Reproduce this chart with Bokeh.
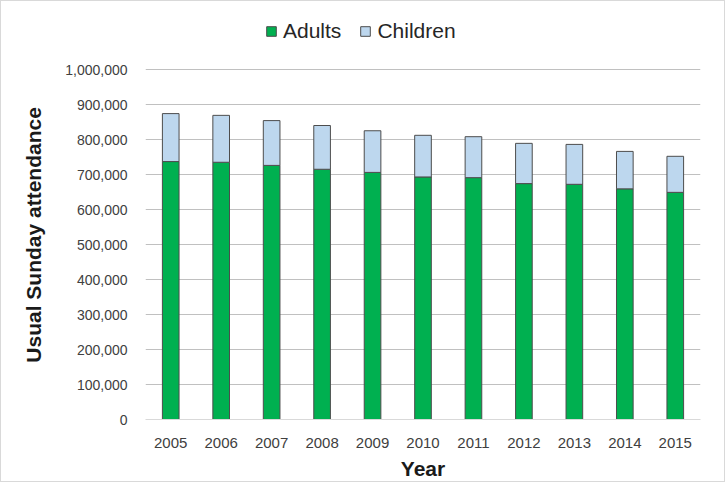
from bokeh.plotting import figure
from bokeh.models import ColumnDataSource, Legend, NumeralTickFormatter, FixedTicker
from bokeh.embed import file_html
from bokeh.resources import INLINE

years = ["2005", "2006", "2007", "2008", "2009", "2010", "2011", "2012", "2013", "2014", "2015"]
adults = [737000, 735000, 726000, 715000, 706000, 693000, 691000, 674000, 672000, 659000, 649000]
children = [137000, 134000, 128000, 125000, 119000, 119000, 117000, 115000, 114000, 107000, 103000]
y_ticks = [0, 100000, 200000, 300000, 400000, 500000, 600000, 700000, 800000, 900000, 1000000]

source = ColumnDataSource(dict(year=years, Adults=adults, Children=children))

# frame extends above the 1,000,000 line to hold the legend
p = figure(x_range=years, y_range=(0, 1171430), width=725, height=482,
           output_backend="svg", toolbar_location=None,
           min_border_left=144, min_border_right=26, min_border_top=8, min_border_bottom=64)

renderers = p.vbar_stack(["Adults", "Children"], x="year", width=0.33, source=source,
                         color=["#00b050", "#bdd7ee"], line_color="#4d4d4d", line_width=1)

legend = Legend(items=[("Adults", [renderers[0]]), ("Children", [renderers[1]])],
                orientation="horizontal", location=(120, 376))
legend.label_text_font = "Liberation Sans"
legend.label_text_font_size = "21px"
legend.label_text_color = "#262626"
legend.glyph_width = 12
legend.glyph_height = 12
legend.spacing = 18
legend.label_standoff = 6
legend.border_line_color = None
legend.background_fill_alpha = 0
legend.padding = 0
legend.margin = 0
p.add_layout(legend, "center")

p.yaxis.ticker = FixedTicker(ticks=y_ticks)
p.yaxis.formatter = NumeralTickFormatter(format="0,0")
p.ygrid.ticker = FixedTicker(ticks=y_ticks)
p.ygrid.grid_line_color = "#c0c0c0"
p.ygrid.grid_line_width = 1
p.xgrid.grid_line_color = None

for ax in (p.xaxis[0], p.yaxis[0]):
    ax.major_tick_line_color = None
    ax.minor_tick_line_color = None
    ax.major_label_text_font = "Liberation Sans"
    ax.major_label_text_color = "#404040"
    ax.axis_label_text_font = "Liberation Sans"
    ax.axis_label_text_font_size = "21px"
    ax.axis_label_text_font_style = "bold"
    ax.axis_label_text_color = "#1a1a1a"

p.xaxis.major_label_text_font_size = "15px"
p.yaxis.major_label_text_font_size = "14px"
p.yaxis.axis_line_color = None
p.xaxis.axis_line_color = "#d9d9d9"
p.xaxis.axis_label = "Year"
# trailing no-break spaces move the visible label down to the centre of the 0–1,000,000 span
p.yaxis.axis_label = "Usual Sunday attendance" + "\u00a0" * 7
p.xaxis.major_label_standoff = 12
p.yaxis.major_label_standoff = 12
p.xaxis.axis_label_standoff = 6
p.yaxis.axis_label_standoff = 17
p.x_range.range_padding = 0.0
p.outline_line_color = None
p.styles = {"border": "1px solid #d9d9d9", "box-sizing": "border-box"}

open("out.html", "w").write(file_html(p, INLINE))
